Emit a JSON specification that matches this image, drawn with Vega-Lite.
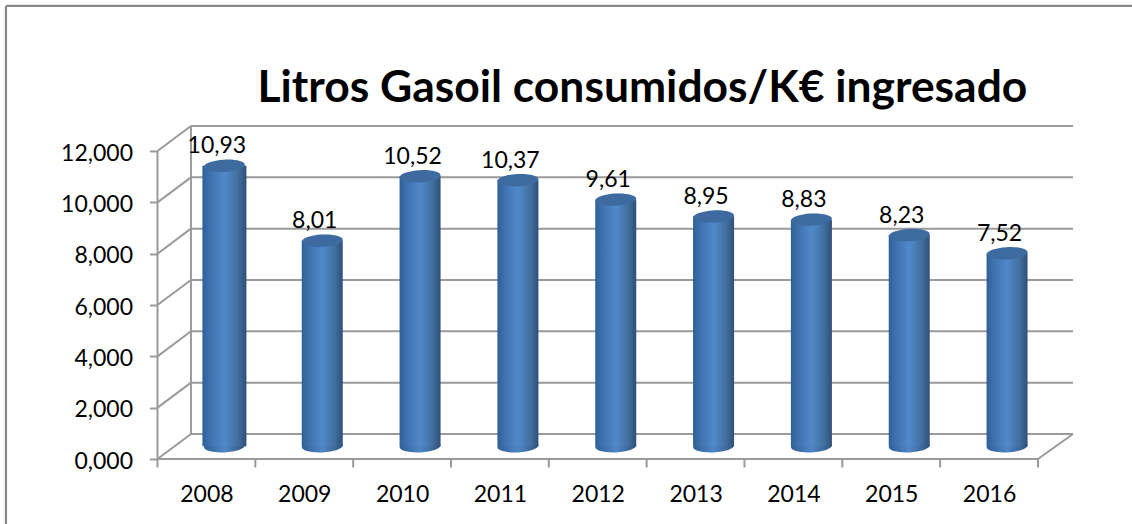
{
"$schema":"https://vega.github.io/schema/vega-lite/v6.json",
"width":915.5,"height":333,
"autosize":{"type":"none"},
"padding":{"left":157.5,"top":126,"right":59,"bottom":65},
"background":"white",
"config":{"view":{"stroke":null},"font":"Lato"},
"title":{"text":"Litros Gasoil consumidos/K€ ingresado","anchor":"start","frame":"group","dx":100,"offset":0,"dy":142,"baseline":"alphabetic","font":"Lato","fontSize":44.4,"fontWeight":"bold","color":"#000000"},
"resolve":{"axis":{"x":"independent","y":"independent"}},
"datasets":{
"values":[
{"year":2008,"value":10.93,"label":"10,93"},
{"year":2009,"value":8.01,"label":"8,01"},
{"year":2010,"value":10.52,"label":"10,52"},
{"year":2011,"value":10.37,"label":"10,37"},
{"year":2012,"value":9.61,"label":"9,61"},
{"year":2013,"value":8.95,"label":"8,95"},
{"year":2014,"value":8.83,"label":"8,83"},
{"year":2015,"value":8.23,"label":"8,23"},
{"year":2016,"value":7.52,"label":"7,52"}],
"walls":[
{"x":2007.5,"x2":2007.5,"y":0,"y2":12},
{"x":2007.842,"x2":2007.842,"y":0.975,"y2":12.975},
{"x":2007.5,"x2":2016.5,"y":0,"y2":0},
{"x":2016.5,"x2":2016.858,"y":0,"y2":0.975},
{"x":2007.5,"x2":2007.842,"y":0,"y2":0.975},
{"x":2007.5,"x2":2007.842,"y":2,"y2":2.975},
{"x":2007.5,"x2":2007.842,"y":4,"y2":4.975},
{"x":2007.5,"x2":2007.842,"y":6,"y2":6.975},
{"x":2007.5,"x2":2007.842,"y":8,"y2":8.975},
{"x":2007.5,"x2":2007.842,"y":10,"y2":10.975},
{"x":2007.5,"x2":2007.842,"y":12,"y2":12.975},
{"x":2007.842,"x2":2016.858,"y":0.975,"y2":0.975},
{"x":2007.842,"x2":2016.858,"y":2.975,"y2":2.975},
{"x":2007.842,"x2":2016.858,"y":4.975,"y2":4.975},
{"x":2007.842,"x2":2016.858,"y":6.975,"y2":6.975},
{"x":2007.842,"x2":2016.858,"y":8.975,"y2":8.975},
{"x":2007.842,"x2":2016.858,"y":10.975,"y2":10.975},
{"x":2007.842,"x2":2016.858,"y":12.975,"y2":12.975},
{"x":2007.5,"x2":2007.5,"y":-0.33,"y2":0},
{"x":2008.5,"x2":2008.5,"y":-0.33,"y2":0},
{"x":2009.5,"x2":2009.5,"y":-0.33,"y2":0},
{"x":2010.5,"x2":2010.5,"y":-0.33,"y2":0},
{"x":2011.5,"x2":2011.5,"y":-0.33,"y2":0},
{"x":2012.5,"x2":2012.5,"y":-0.33,"y2":0},
{"x":2013.5,"x2":2013.5,"y":-0.33,"y2":0},
{"x":2014.5,"x2":2014.5,"y":-0.33,"y2":0},
{"x":2015.5,"x2":2015.5,"y":-0.33,"y2":0},
{"x":2016.5,"x2":2016.5,"y":-0.33,"y2":0}],
"frame":[
{"x":2005.951,"x2":2005.951,"y":-2.6,"y2":17.655},
{"x":2005.951,"x2":2017.47,"y":17.655,"y2":17.655}]
},
"layer":[
{"data":{"name":"frame"},"mark":{"type":"rule","stroke":"#868686","strokeWidth":2.2},
"encoding":{"x":{"field":"x","type":"quantitative","scale":{"domain":[2007.5,2016.858],"nice":false,"zero":false,"padding":0},"axis":null},"x2":{"field":"x2"},"y":{"field":"y","type":"quantitative","scale":{"domain":[0,12.975],"nice":false,"zero":false},"axis":null},"y2":{"field":"y2"}}},
{"data":{"name":"walls"},"mark":{"type":"rule","stroke":"#9a9a9a","strokeWidth":2},
"encoding":{"x":{"field":"x","type":"quantitative","scale":{"domain":[2007.5,2016.858],"nice":false,"zero":false,"padding":0},"axis":null},"x2":{"field":"x2"},"y":{"field":"y","type":"quantitative","scale":{"domain":[0,12.975],"nice":false,"zero":false},"axis":{"title":null,"values":[0,2,4,6,8,10,12],"domain":false,"grid":false,"tickSize":8,"tickWidth":2,"tickColor":"#9a9a9a","labelFont":"Lato","labelFontSize":23,"labelColor":"#000000","labelPadding":17,"labelOffset":2,"labelExpr":"replace(format(datum.value,'.3f'),'.',',')"}},"y2":{"field":"y2"}}},
{"data":{"name":"values"},"mark":{"type":"point","filled":true,"opacity":1,"yOffset":-12.7,"xOffset":18,"shape":"M-1,0C-1,-0.165 -0.55,-0.3 0,-0.3C0.55,-0.3 1,-0.165 1,0C1,0.165 0.55,0.3 0,0.3C-0.55,0.3 -1,0.165 -1,0Z","angle":-3,"size":1681,"fill":{"gradient":"linear","x1":0,"y1":0,"x2":1,"y2":0,"stops":[{"offset":0,"color":"#2f5f96"},{"offset":0.5,"color":"#4f86c6"},{"offset":1,"color":"#30557f"}]}},
"encoding":{"x":{"field":"year","type":"quantitative","scale":{"domain":[2007.5,2016.858],"nice":false,"zero":false,"padding":0},"axis":{"title":null,"values":[2008,2009,2010,2011,2012,2013,2014,2015,2016],"format":"d","domain":false,"ticks":false,"grid":false,"labelFont":"Lato","labelFontSize":23,"labelColor":"#000000","labelPadding":24}},"y":{"datum":0,"type":"quantitative","scale":{"domain":[0,12.975],"nice":false,"zero":false},"axis":null}}},
{"data":{"name":"values"},"mark":{"type":"bar","orient":"vertical","yOffset":-12.7,"xOffset":18,"fill":{"gradient":"linear","x1":0,"y1":0,"x2":1,"y2":0,"stops":[{"offset":0,"color":"#2f5f96"},{"offset":0.18,"color":"#3f72ae"},{"offset":0.5,"color":"#5089cb"},{"offset":0.8,"color":"#41709f"},{"offset":1,"color":"#2f4f78"}]}},
"encoding":{"x":{"field":"year","type":"quantitative","scale":{"domain":[2007.5,2016.858],"nice":false,"zero":false,"padding":0},"axis":null},"y":{"field":"value","type":"quantitative","stack":null,"scale":{"domain":[0,12.975],"nice":false,"zero":false},"axis":null},"y2":{"datum":0.495},"size":{"condition":{"test":"datum.year==2008","value":44},"value":41}}},
{"data":{"name":"values"},"mark":{"type":"point","filled":true,"opacity":1,"yOffset":-12.7,"xOffset":18,"shape":"M-1,0C-1,-0.165 -0.55,-0.3 0,-0.3C0.55,-0.3 1,-0.165 1,0C1,0.165 0.55,0.3 0,0.3C-0.55,0.3 -1,0.165 -1,0Z","angle":-3,"size":1681,"fill":"#3d6b9f","stroke":"#4a7fbb","strokeWidth":0.08},
"encoding":{"x":{"field":"year","type":"quantitative","scale":{"domain":[2007.5,2016.858],"nice":false,"zero":false,"padding":0},"axis":null},"y":{"field":"value","type":"quantitative","scale":{"domain":[0,12.975],"nice":false,"zero":false},"axis":null}}},
{"data":{"name":"values"},"mark":{"type":"text","font":"Lato","fontSize":23,"color":"#000000","xOffset":10.5,"yOffset":-32,"align":"center","baseline":"middle"},
"encoding":{"x":{"field":"year","type":"quantitative","scale":{"domain":[2007.5,2016.858],"nice":false,"zero":false},"axis":null},"y":{"field":"value","type":"quantitative","scale":{"domain":[0,12.975],"nice":false,"zero":false},"axis":null},"text":{"field":"label"}}}
]
}
